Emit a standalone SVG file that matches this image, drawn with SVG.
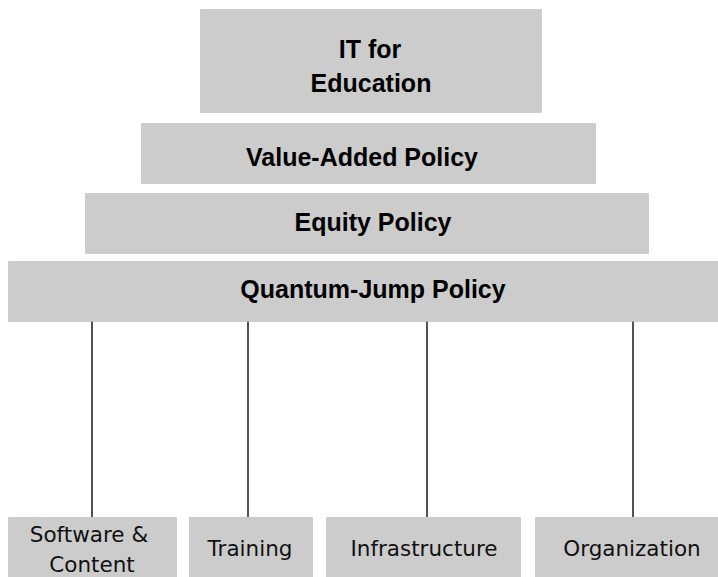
<svg xmlns="http://www.w3.org/2000/svg" width="718" height="577" viewBox="0 0 718 577">
<style>
.box{fill:#cccccc;stroke:#b4b4b4;stroke-width:1;stroke-dasharray:1 1}
.t{font-family:"Liberation Sans",Arial,sans-serif;font-weight:bold;font-size:25px;fill:#000;text-anchor:middle}
.s{font-family:"DejaVu Sans","Liberation Sans",sans-serif;font-size:21.5px;fill:#111;text-anchor:middle}
.c{stroke:#1a1a1a;stroke-width:1.5;fill:none}
</style>
<rect width="718" height="577" fill="#fff"/>
<g id="connectors">
<line class="c" x1="92" y1="321" x2="92" y2="517"/>
<line class="c" x1="248" y1="321" x2="248" y2="517"/>
<line class="c" x1="427" y1="321" x2="427" y2="517"/>
<line class="c" x1="633" y1="321" x2="633" y2="517"/>
</g>
<g id="it-education">
<rect class="box" x="200.5" y="9.5" width="341" height="103"/>
<text class="t" x="370" y="58">IT for</text>
<text class="t" x="371" y="92">Education</text>
</g>
<g id="value-added">
<rect class="box" x="141.5" y="123.5" width="454" height="60"/>
<text class="t" x="362" y="166">Value-Added Policy</text>
</g>
<g id="equity">
<rect class="box" x="85.5" y="193.5" width="563" height="60"/>
<text class="t" x="373" y="231">Equity Policy</text>
</g>
<g id="quantum-jump">
<rect class="box" x="8.5" y="261.5" width="712" height="60"/>
<text class="t" x="373" y="298">Quantum-Jump Policy</text>
</g>
<g id="software-content">
<rect class="box" x="8.5" y="517.5" width="168" height="62"/>
<text class="s" x="89" y="542">Software &amp;</text>
<text class="s" x="92" y="572">Content</text>
</g>
<g id="training">
<rect class="box" x="189.5" y="517.5" width="123" height="62"/>
<text class="s" x="250" y="556">Training</text>
</g>
<g id="infrastructure">
<rect class="box" x="326.5" y="517.5" width="194" height="62"/>
<text class="s" x="424" y="556">Infrastructure</text>
</g>
<g id="organization">
<rect class="box" x="535.5" y="517.5" width="185" height="62"/>
<text class="s" x="632" y="556">Organization</text>
</g>
</svg>
